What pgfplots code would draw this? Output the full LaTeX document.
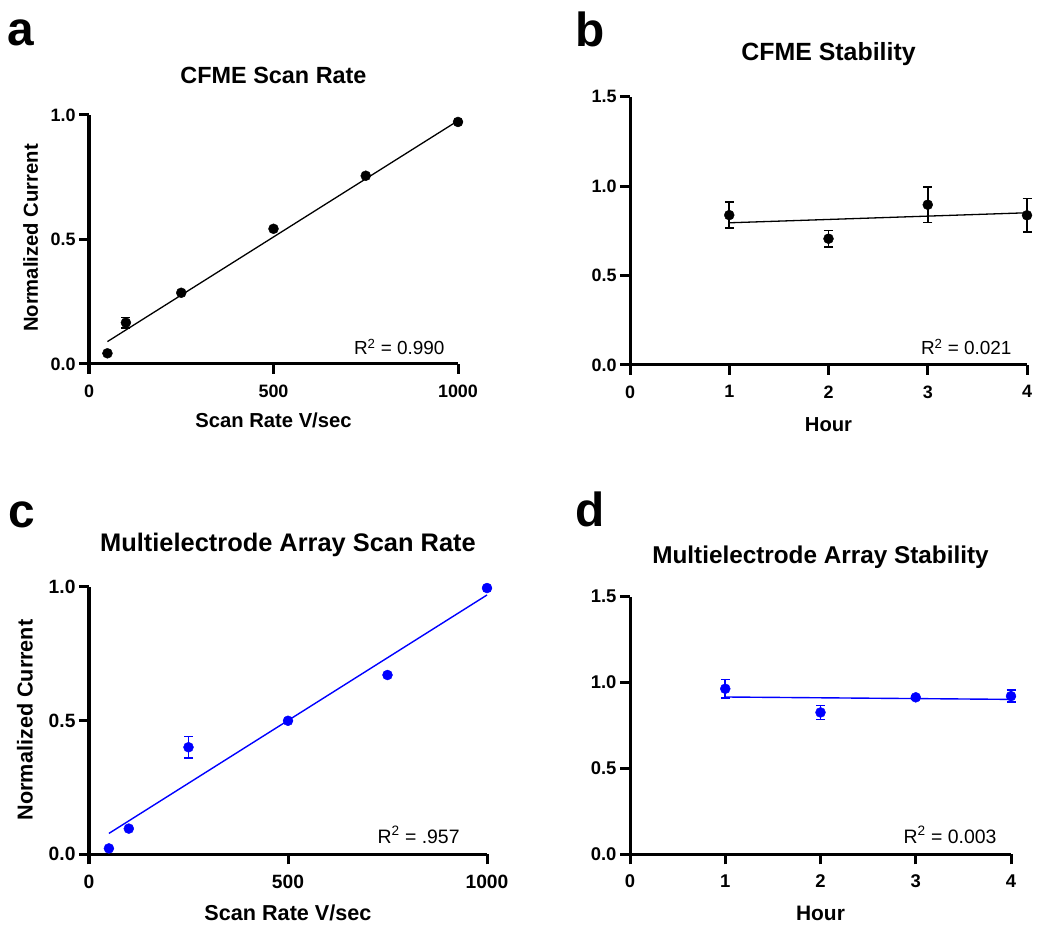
\documentclass[border=0pt]{standalone}
\usepackage{pgfplots}
\pgfplotsset{compat=1.18}
\usepackage{fontspec}
\setmainfont{Liberation Sans}
\definecolor{myblue}{RGB}{0,0,255}
\pgfplotsset{
  panel/.style={
    scale only axis,
    axis x line=bottom, axis y line=left,
    axis line style={line width=3bp,-},
    every outer x axis line/.append style={-},
    every outer y axis line/.append style={-},
    tick align=outside,
    major tick length=10bp,
    tick style={line width=3bp,black},
    /pgf/number format/assume math mode=true,
    /pgf/number format/1000 sep={},
    y tick label style={/pgf/number format/.cd, fixed, fixed zerofill, precision=1, /tikz/.cd},
    x tick label style={yshift=-7bp},
    clip=false,
    enlargelimits=false,
  },
  ebars/.style={only marks, mark=*, mark size=5bp, color=#1, mark options={fill=#1,draw=#1},
    error bars/.cd, y dir=both, y explicit,
    error bar style={line width=1.6bp,color=#1},
    error mark options={rotate=90, mark size=4.5bp, line width=1.6bp,color=#1}},
}
\begin{document}
\begin{tikzpicture}
\path[use as bounding box] (0,0) rectangle (1050bp,934bp);

% ---------- a ----------
\begin{axis}[panel, at={(89bp,570bp)}, anchor=south west,
  width=369bp, height=249bp,
  xmin=0, xmax=1000, ymin=0, ymax=1,
  xtick={0,500,1000}, ytick={0,0.5,1},
  ticklabel style={font=\bfseries\fontsize{18}{20}\selectfont},
  title={CFME Scan Rate},
  title style={font=\bfseries\fontsize{23.5}{26}\selectfont, at={(axis description cs:0.5,1.133)}, anchor=center},
  xlabel={Scan Rate V/sec},
  xlabel style={font=\bfseries\fontsize{20.3}{22}\selectfont, at={(axis description cs:0.5,-0.225)}, anchor=center},
  ylabel={Normalized Current},
  ylabel style={font=\bfseries\fontsize{20.3}{22}\selectfont, at={(axis description cs:-0.158,0.506)}, anchor=center},
]
\addplot[black, line width=1.3bp] coordinates {(50,0.090) (1000,0.977)};
\addplot[ebars=black] coordinates {
 (50,0.043) +- (0,0)
 (100,0.166) +- (0,0.021)
 (250,0.286) +- (0,0)
 (500,0.543) +- (0,0)
 (750,0.756) +- (0,0)
 (1000,0.972) +- (0,0)
};
\node[anchor=east, font=\fontsize{19}{21}\selectfont] at (axis cs:973,0.068) {R\textsuperscript{2} = 0.990};
\end{axis}

% ---------- b ----------
\begin{axis}[panel, at={(630bp,569bp)}, anchor=south west,
  width=397bp, height=268.3bp,
  xmin=0, xmax=4, ymin=0, ymax=1.5,
  xtick={0,1,2,3,4}, ytick={0,0.5,1,1.5},
  ticklabel style={font=\bfseries\fontsize{18}{20}\selectfont},
  title={CFME Stability},
  title style={font=\bfseries\fontsize{25}{27}\selectfont, at={(axis description cs:0.5,1.137)}, anchor=center},
  xlabel={Hour},
  xlabel style={font=\bfseries\fontsize{20.3}{22}\selectfont, at={(axis description cs:0.5,-0.224)}, anchor=center},
]
\addplot[black, line width=1.3bp] coordinates {(1,0.795) (4,0.851)};
\addplot[ebars=black] coordinates {
 (1,0.838) +- (0,0.073)
 (2,0.706) +- (0,0.047)
 (3,0.896) +- (0,0.100)
 (4,0.837) +- (0,0.093)
};
\node[anchor=east, font=\fontsize{19}{21}\selectfont] at (axis cs:3.879,0.10) {R\textsuperscript{2} = 0.021};
\end{axis}

% ---------- c ----------
\begin{axis}[panel, at={(89bp,79.7bp)}, anchor=south west,
  width=398bp, height=267.6bp,
  xmin=0, xmax=1000, ymin=0, ymax=1,
  xtick={0,500,1000}, ytick={0,0.5,1},
  ticklabel style={font=\bfseries\fontsize{19.3}{21}\selectfont},
  title={Multielectrode Array Scan Rate},
  title style={font=\bfseries\fontsize{25.5}{28}\selectfont, at={(axis description cs:0.5,1.133)}, anchor=center},
  xlabel={Scan Rate V/sec},
  xlabel style={font=\bfseries\fontsize{21.7}{24}\selectfont, at={(axis description cs:0.5,-0.219)}, anchor=center},
  ylabel={Normalized Current},
  ylabel style={font=\bfseries\fontsize{21.7}{24}\selectfont, at={(axis description cs:-0.161,0.502)}, anchor=center},
]
\addplot[myblue, line width=1.4bp] coordinates {(50,0.078) (1000,0.969)};
\addplot[ebars=myblue] coordinates {
 (50,0.022) +- (0,0)
 (100,0.096) +- (0,0)
 (250,0.400) +- (0,0.040)
 (500,0.499) +- (0,0)
 (750,0.670) +- (0,0)
 (1000,0.995) +- (0,0)
};
\node[anchor=east, font=\fontsize{19.5}{21}\selectfont] at (axis cs:940,0.072) {R\textsuperscript{2} = .957};
\end{axis}

% ---------- d ----------
\begin{axis}[panel, at={(630bp,79.7bp)}, anchor=south west,
  width=381bp, height=257.6bp,
  xmin=0, xmax=4, ymin=0, ymax=1.5,
  xtick={0,1,2,3,4}, ytick={0,0.5,1,1.5},
  ticklabel style={font=\bfseries\fontsize{18.5}{20}\selectfont},
  title={Multielectrode Array Stability},
  title style={font=\bfseries\fontsize{24.4}{27}\selectfont, at={(axis description cs:0.5,1.131)}, anchor=center},
  xlabel={Hour},
  xlabel style={font=\bfseries\fontsize{21}{23}\selectfont, at={(axis description cs:0.5,-0.228)}, anchor=center},
]
\addplot[myblue, line width=1.4bp] coordinates {(1,0.916) (4,0.902)};
\addplot[ebars=myblue] coordinates {
 (1,0.964) +- (0,0.054)
 (2,0.826) +- (0,0.040)
 (3,0.914) +- (0,0.010)
 (4,0.921) +- (0,0.034)
};
\node[anchor=east, font=\fontsize{19.5}{21}\selectfont] at (axis cs:3.885,0.112) {R\textsuperscript{2} = 0.003};
\end{axis}

\node[font=\bfseries\fontsize{48}{50}\selectfont] at (20.5bp,901.5bp) {a};
\node[font=\bfseries\fontsize{48}{50}\selectfont] at (590bp,904.5bp) {b};
\node[font=\bfseries\fontsize{48}{50}\selectfont] at (21.7bp,419bp) {c};
\node[font=\bfseries\fontsize{48}{50}\selectfont] at (590bp,425bp) {d};
\end{tikzpicture}
\end{document}
